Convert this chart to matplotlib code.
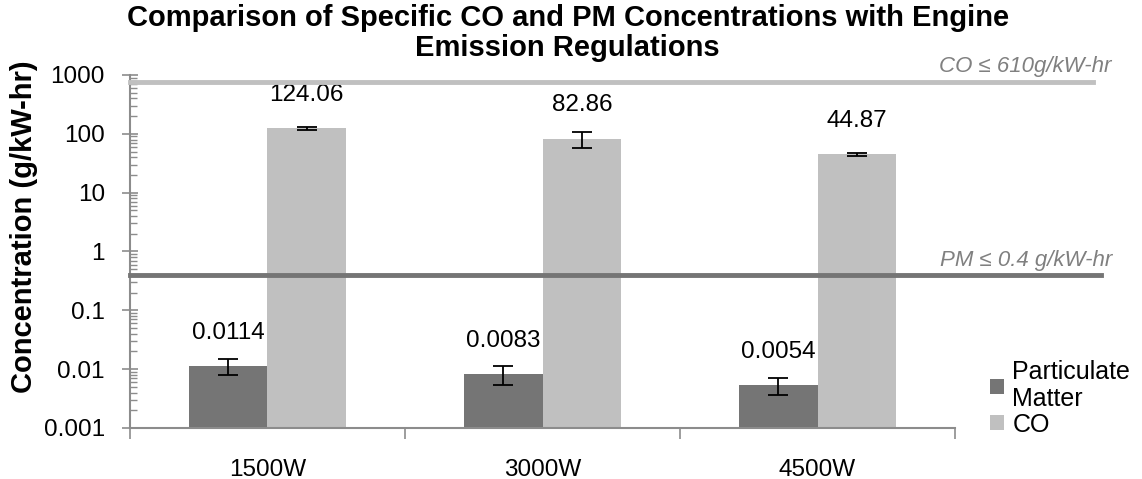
import numpy as np
import matplotlib
matplotlib.use("Agg")
from matplotlib import pyplot as plt
from matplotlib.transforms import blended_transform_factory

# data
categories = ["1500W", "3000W", "4500W"]
pm_values = [0.0114, 0.0083, 0.0054]
pm_errors = [0.0035, 0.003, 0.0018]
co_values = [124.06, 82.86, 44.87]
co_errors = [6.0, 25.0, 3.0]
# regulation lines (the CO line sits a bit above 610 in the picture)
co_line_level = 760
pm_line_level = 0.4
co_limit_text = "CO ≤ 610g/kW-hr"
pm_limit_text = "PM ≤ 0.4 g/kW-hr"
title_lines = ["Comparison of Specific CO and PM Concentrations with Engine",
               "Emission Regulations"]

PM_COLOR = "#757575"
CO_COLOR = "#c0c0c0"


def main():
    plt.rcParams["font.family"] = ["Liberation Sans", "DejaVu Sans"]

    fig = plt.figure(figsize=(11.42, 4.79), dpi=100)
    ax = fig.add_axes([0.1138, 0.1065, 0.7225, 0.737])

    x = np.arange(len(categories))
    width = 0.286

    ax.bar(x - width / 2, pm_values, width, color=PM_COLOR,
           label="Particulate\nMatter", zorder=2)
    ax.bar(x + width / 2, co_values, width, color=CO_COLOR,
           label="CO", zorder=2)
    ax.errorbar(x - width / 2, pm_values, yerr=pm_errors, fmt="none",
                ecolor="black", elinewidth=1.3, capsize=7, capthick=1.3, zorder=3)
    ax.errorbar(x + width / 2, co_values, yerr=co_errors, fmt="none",
                ecolor="black", elinewidth=1.3, capsize=7, capthick=1.3, zorder=3)

    # value labels
    for xi, v in zip(x - width / 2, pm_values):
        ax.annotate(f"{v:g}", (xi, v), xytext=(0, 16), textcoords="offset points",
                    ha="center", va="bottom", fontsize=17.5)
    for xi, v in zip(x + width / 2, co_values):
        ax.annotate(f"{v:.2f}", (xi, v), xytext=(0, 16), textcoords="offset points",
                    ha="center", va="bottom", fontsize=17.5)

    ax.set_yscale("log")
    ax.set_ylim(0.001, 1000)
    ax.set_xlim(-0.5, len(categories) - 0.5)
    ax.set_yticks([0.001, 0.01, 0.1, 1, 10, 100, 1000])
    ax.set_yticklabels(["0.001", "0.01", "0.1", "1", "10", "100", "1000"])
    ax.set_xticks(x)
    ax.set_xticklabels(categories)
    ax.set_xticks(np.arange(len(categories) + 1) - 0.5, minor=True)

    # regulation lines, reaching past the plot area
    trans = blended_transform_factory(ax.transAxes, ax.transData)
    ax.plot([0, 1.167], [co_line_level, co_line_level], color=CO_COLOR, lw=3.5,
            transform=trans, clip_on=False, zorder=4)
    ax.plot([0, 1.177], [pm_line_level, pm_line_level], color=PM_COLOR, lw=3.5,
            transform=trans, clip_on=False, zorder=4)
    ax.text(1.19, co_line_level * 1.22, co_limit_text, transform=trans,
            ha="right", va="bottom", style="italic", color="#808080", fontsize=16)
    ax.text(1.19, pm_line_level * 1.18, pm_limit_text, transform=trans,
            ha="right", va="bottom", style="italic", color="#808080", fontsize=16)

    for side in ["top", "right"]:
        ax.spines[side].set_visible(False)
    for side in ["left", "bottom"]:
        ax.spines[side].set_color("#8c8c8c")
        ax.spines[side].set_linewidth(1.5)

    ax.tick_params(axis="y", which="major", direction="inout", length=12,
                   color="#8c8c8c", width=1.2, labelsize=17.5, pad=12)
    ax.tick_params(axis="y", which="minor", direction="in", length=5,
                   color="#8c8c8c", width=1.0)
    ax.tick_params(axis="x", which="major", length=0, labelsize=17.5, pad=22)
    ax.tick_params(axis="x", which="minor", direction="out", length=8,
                   color="#8c8c8c", width=1.2)

    ax.set_ylabel("Concentration (g/kW-hr)", fontsize=21, fontweight="bold")
    ax.yaxis.set_label_coords(-0.112, 0.57)

    # title, one text per line
    fig.text(0.497, 0.962, title_lines[0], ha="center", va="center",
             fontsize=21, fontweight="bold")
    fig.text(0.497, 0.9, title_lines[1], ha="center", va="center",
             fontsize=21, fontweight="bold")

    ax.legend(loc="upper left", bbox_to_anchor=(0.858, 0.27),
              bbox_transform=fig.transFigure, frameon=False, fontsize=18,
              handlelength=0.55, handleheight=0.55, handletextpad=0.35,
              labelspacing=0.05, borderaxespad=0)

    fig.savefig("out.png", dpi=100)


if __name__ == "__main__":
    main()
